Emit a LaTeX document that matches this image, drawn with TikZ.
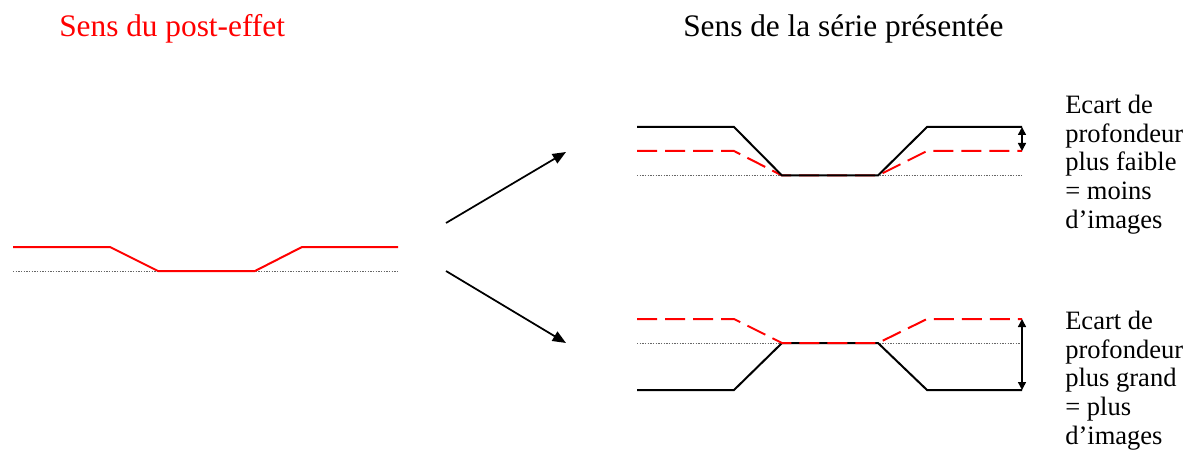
\documentclass[tikz,border=0pt]{standalone}
\usepackage{fontspec}
\setmainfont{Liberation Serif}
\usetikzlibrary{arrows.meta}

\begin{document}
\begin{tikzpicture}[x=0.75pt,y=-0.75pt,
  profil/.style={line width=1.5pt, line join=miter},
  tirets/.style={profil, red, dash pattern=on 15pt off 6pt},
  repere/.style={black!60, line width=0.5pt, dash pattern=on 1pt off 1pt},
  fleche/.style={line width=1.3pt, -{Triangle[length=10pt, width=8pt]}},
  ecart/.style={line width=1.1pt, {Triangle[length=6pt, width=6pt]}-{Triangle[length=6pt, width=6pt]}},
  titre/.style={anchor=base west, inner sep=0pt, font=\fontsize{23.5}{26}\selectfont},
  legende/.style={anchor=base west, inner sep=0pt, align=left, font=\fontsize{19.9}{21.5}\selectfont}]
\useasboundingbox (0,0) rectangle (1188,456);

% titres
\node[titre, red] (postEffet) at (59,37) {Sens du post-effet};
\node[titre] (serie) at (683,37) {Sens de la série présentée};

% profil du post-effet
\draw[repere] (13,271) -- (398,271);
\draw[profil, red] (13,247) -- (110,247) -- (158,271) -- (255,271) -- (302,247) -- (398,247);

% fleches
\coordinate (departHaut) at (446,223);
\coordinate (arriveeHaut) at (566,152);
\coordinate (departBas) at (446,271);
\coordinate (arriveeBas) at (566,343);
\draw[fleche] (departHaut) -- (arriveeHaut);
\draw[fleche] (departBas) -- (arriveeBas);

% serie du haut
\draw[repere] (637,175.5) -- (1022,175.5);
\draw[tirets] (637,151) -- (734,151) -- (782,175.5) -- (878,175.5) -- (927,151) -- (1022,151);
\draw[profil] (637,127) -- (734,127) -- (782,175.5) -- (878,175.5) -- (927,127) -- (1022,127);
\coordinate (ecartHautA) at (1022,127);
\coordinate (ecartHautB) at (1022,151);
\draw[ecart] (ecartHautA) -- (ecartHautB);
\node[legende] (faible) at (1065,228) {Ecart de\\profondeur\\plus faible\\= moins\\d’images};

% serie du bas
\draw[repere] (637,343) -- (1022,343);
\draw[profil] (637,390) -- (734,390) -- (782,343) -- (878,343) -- (927,390) -- (1022,390);
\draw[tirets] (637,319) -- (734,319) -- (782,343) -- (878,343) -- (927,319) -- (1022,319);
\coordinate (ecartBasA) at (1022,319);
\coordinate (ecartBasB) at (1022,390);
\draw[ecart] (ecartBasA) -- (ecartBasB);
\node[legende] (grand) at (1065,444) {Ecart de\\profondeur\\plus grand\\= plus\\d’images};
\end{tikzpicture}
\end{document}
